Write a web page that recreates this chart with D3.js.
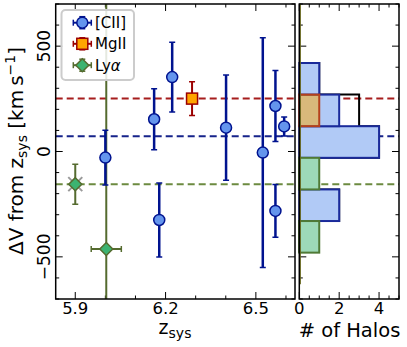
<!DOCTYPE html>
<html>
<head>
<meta charset="utf-8">
<script src="https://cdn.jsdelivr.net/npm/d3@7"></script>
<style>
  body { margin: 0; background: #fff; }
  svg { display: block; font-family: "DejaVu Sans", sans-serif; }
</style>
</head>
<body>
<div id="chart"></div>
<script>
// [CII] halos: redshift, velocity offset, 1-sigma error (km/s)
const ciiZ   = [6.000, 6.162, 6.179, 6.222, 6.401, 6.523, 6.565, 6.565, 6.594];
const ciiV   = [-29,   153,   -325,  353,   113,   -5,    216,   -282,  119];
const ciiErr = [130,   145,   176,   166,   250,   545,   168,   125,   45];

// MgII
const mgZ   = [6.288];
const mgV   = [251];
const mgErr = [80];

// Lyα
const lyaZ    = [5.900, 6.003];
const lyaV    = [-155, -463];
const lyaErr  = [95, 1500];
const lyaZErr = [0, 0.05];

// mean offsets (dashed lines): MgII, [CII], Lyα
const meanV = [251, 72, -155];

// histogram bin edges (km/s)
const binEdges = [-480, -330, -180, -30, 120, 270, 420];

const xTicks = [5.9, 6.2, 6.5];
const yTicks = [-500, 0, 500];
const histTicks = [0, 2, 4];

const W = 407, H = 347;
const main = { left: 55.7, right: 295, top: 4, bottom: 299 };
const hist = { left: 299.3, right: 399 };

const C = {
  cii: { fill: '#6495ed', edge: '#00138f', bar: '#b1caf6', barEdge: '#1a2a9a', dash: '#16238a' },
  mg:  { fill: '#ffa500', edge: '#9b0000', bar: '#ffa500', barEdge: '#b5401c', dash: '#a61d1d' },
  lya: { fill: '#3cb371', edge: '#556b2f', bar: '#9dd9b8', barEdge: '#4f7a36', dash: '#6c8a40' }
};

const svg = d3.select('#chart').append('svg')
  .attr('width', W).attr('height', H);

const x = d3.scaleLinear().domain([5.835, 6.63]).range([main.left, main.right]);
const y = d3.scaleLinear().domain([-700, 700]).range([main.bottom, main.top]);
const hx = d3.scaleLinear().domain([0, 5]).range([hist.left, hist.right]);

svg.append('clipPath').attr('id', 'clipMain')
  .append('rect').attr('x', main.left).attr('y', main.top)
  .attr('width', main.right - main.left).attr('height', main.bottom - main.top);

// ---------- inward ticks on all four sides ----------
function ticksY(x0, inward, major, minor) {
  const g = svg.append('g');
  major.forEach(v => g.append('line').attr('x1', x0).attr('x2', x0 + inward * 7)
    .attr('y1', y(v)).attr('y2', y(v)).attr('stroke', '#000').attr('stroke-width', 1));
  minor.forEach(v => g.append('line').attr('x1', x0).attr('x2', x0 + inward * 3.5)
    .attr('y1', y(v)).attr('y2', y(v)).attr('stroke', '#000').attr('stroke-width', 1));
}
function ticksX(scale, y0, inward, major, minor) {
  const g = svg.append('g');
  major.forEach(v => g.append('line').attr('y1', y0).attr('y2', y0 + inward * 7)
    .attr('x1', scale(v)).attr('x2', scale(v)).attr('stroke', '#000').attr('stroke-width', 1));
  minor.forEach(v => g.append('line').attr('y1', y0).attr('y2', y0 + inward * 3.5)
    .attr('x1', scale(v)).attr('x2', scale(v)).attr('stroke', '#000').attr('stroke-width', 1));
}
const yMinor = d3.range(-700, 701, 100).filter(v => !yTicks.includes(v));
const xMinor = d3.range(5.9, 6.65, 0.1).map(v => +v.toFixed(1)).filter(v => !xTicks.includes(v));
const hMinor = d3.range(0, 5.01, 0.5).filter(v => !histTicks.includes(v));

ticksY(main.left, 1, yTicks, yMinor);
ticksY(main.right, -1, yTicks, yMinor);
ticksY(hist.left, 1, yTicks, yMinor);
ticksY(hist.right, -1, yTicks, yMinor);
ticksX(x, main.bottom, -1, xTicks, xMinor);
ticksX(x, main.top, 1, xTicks, xMinor);
ticksX(hx, main.bottom, -1, histTicks, hMinor);
ticksX(hx, main.top, 1, histTicks, hMinor);

// ---------- mean dashed lines ----------
const dashColors = [C.mg.dash, C.cii.dash, C.lya.dash];
meanV.forEach((v, i) => {
  [[main.left, main.right], [hist.left, hist.right]].forEach(([a, b]) => {
    svg.append('line').attr('x1', a).attr('x2', b).attr('y1', y(v)).attr('y2', y(v))
      .attr('stroke', dashColors[i]).attr('stroke-width', 2)
      .attr('stroke-dasharray', '7,4');
  });
});

// ---------- error bars + markers ----------
const pts = svg.append('g').attr('clip-path', 'url(#clipMain)');
function errY(zv, v, e, color, w) {
  pts.append('line').attr('x1', x(zv)).attr('x2', x(zv)).attr('y1', y(v - e)).attr('y2', y(v + e))
    .attr('stroke', color).attr('stroke-width', w);
  [v - e, v + e].forEach(t => pts.append('line')
    .attr('x1', x(zv) - 3).attr('x2', x(zv) + 3).attr('y1', y(t)).attr('y2', y(t))
    .attr('stroke', color).attr('stroke-width', 1.5));
}
function errX(zv, v, e, color, w) {
  if (!e) return;
  pts.append('line').attr('x1', x(zv - e)).attr('x2', x(zv + e)).attr('y1', y(v)).attr('y2', y(v))
    .attr('stroke', color).attr('stroke-width', w);
  [zv - e, zv + e].forEach(t => pts.append('line')
    .attr('x1', x(t)).attr('x2', x(t)).attr('y1', y(v) - 3).attr('y2', y(v) + 3)
    .attr('stroke', color).attr('stroke-width', 1.5));
}
function diamond(g, cx, cy, r, c) {
  g.append('path').attr('d', `M${cx},${cy - r}L${cx + r},${cy}L${cx},${cy + r}L${cx - r},${cy}Z`)
    .attr('fill', c.fill).attr('stroke', c.edge).attr('stroke-width', 1.5);
}
function circle(g, cx, cy, c) {
  g.append('circle').attr('cx', cx).attr('cy', cy).attr('r', 5.5)
    .attr('fill', c.fill).attr('stroke', c.edge).attr('stroke-width', 1.5);
}
function square(g, cx, cy, c) {
  g.append('rect').attr('x', cx - 5.5).attr('y', cy - 5.5).attr('width', 11).attr('height', 11)
    .attr('fill', c.fill).attr('stroke', c.edge).attr('stroke-width', 1.5);
}

// Lyα first (its long error bar sits behind the [CII] points)
lyaZ.forEach((zv, i) => {
  errY(zv, lyaV[i], lyaErr[i], C.lya.edge, 2);
  errX(zv, lyaV[i], lyaZErr[i], C.lya.edge, 2);
});
// grey cross behind the first Lyα point
[[-1, -1], [-1, 1]].forEach(([a, b]) => {
  pts.append('line')
    .attr('x1', x(lyaZ[0]) + a * 7).attr('y1', y(lyaV[0]) + b * 7)
    .attr('x2', x(lyaZ[0]) - a * 7).attr('y2', y(lyaV[0]) - b * 7)
    .attr('stroke', '#9a9a9a').attr('stroke-width', 2);
});
lyaZ.forEach((zv, i) => diamond(pts, x(zv), y(lyaV[i]), 6.5, C.lya));

ciiZ.forEach((zv, i) => errY(zv, ciiV[i], ciiErr[i], C.cii.edge, 2.5));
ciiZ.forEach((zv, i) => circle(pts, x(zv), y(ciiV[i]), C.cii));

mgZ.forEach((zv, i) => errY(zv, mgV[i], mgErr[i], C.mg.edge, 2));
mgZ.forEach((zv, i) => square(pts, x(zv), y(mgV[i]), C.mg));

// ---------- histogram panel ----------
const binner = d3.bin().domain([binEdges[0], binEdges[binEdges.length - 1]]).thresholds(binEdges.slice(1, -1));
const ciiBins = binner(ciiV);
const mgBins = binner(mgV);
const lyaBins = binner(lyaV.filter(v => v >= binEdges[0]));
const allBins = binner(ciiV.concat(mgV));

// black step outline of [CII]+MgII
const step = [[0, binEdges[0]]];
allBins.forEach(b => { step.push([b.length, b.x0]); step.push([b.length, b.x1]); });
step.push([0, binEdges[binEdges.length - 1]]);
svg.append('path')
  .attr('d', d3.line().x(d => hx(d[0])).y(d => y(d[1]))(step))
  .attr('fill', 'none').attr('stroke', '#000').attr('stroke-width', 2);

function bars(bins, c, opacity) {
  svg.append('g').selectAll('rect').data(bins.filter(b => b.length > 0)).join('rect')
    .attr('x', hx(0))
    .attr('y', d => y(d.x1))
    .attr('width', d => hx(d.length) - hx(0))
    .attr('height', d => y(d.x0) - y(d.x1))
    .attr('fill', c.bar).attr('fill-opacity', opacity)
    .attr('stroke', c.barEdge).attr('stroke-width', 2);
}
bars(ciiBins, C.cii, 1);
bars(lyaBins, C.lya, 1);
bars(mgBins, C.mg, 0.5);

// thin olive line along zero count
svg.append('line').attr('x1', hx(0) + 1).attr('x2', hx(0) + 1)
  .attr('y1', main.top).attr('y2', y(-630))
  .attr('stroke', '#6b6b1f').attr('stroke-width', 1.2);

// ---------- frames ----------
[[main.left, main.right], [hist.left, hist.right]].forEach(([a, b]) => {
  svg.append('rect').attr('x', a).attr('y', main.top)
    .attr('width', b - a).attr('height', main.bottom - main.top)
    .attr('fill', 'none').attr('stroke', '#000').attr('stroke-width', 1.5);
});

// ---------- tick labels ----------
svg.append('g').selectAll('text').data(xTicks).join('text')
  .attr('x', d => x(d)).attr('y', 314).attr('text-anchor', 'middle')
  .attr('font-size', 16.5).text(d => d.toFixed(1));
svg.append('g').selectAll('text').data(histTicks).join('text')
  .attr('x', d => hx(d)).attr('y', 314).attr('text-anchor', 'middle')
  .attr('font-size', 16.5).text(d => d);
svg.append('g').selectAll('text').data(yTicks).join('text')
  .attr('transform', d => `translate(50,${y(d)}) rotate(-90)`)
  .attr('text-anchor', 'middle').attr('font-size', 17)
  .text(d => d < 0 ? '\u2212' + Math.abs(d) : d);

// ---------- axis labels ----------
const xl = svg.append('text').attr('x', 175).attr('y', 334)
  .attr('text-anchor', 'middle').attr('font-size', 19);
xl.append('tspan').text('z');
xl.append('tspan').attr('font-size', 14).attr('dy', 4).text('sys');

svg.append('text').attr('x', 349.5).attr('y', 337)
  .attr('text-anchor', 'middle').attr('font-size', 19.5).text('# of Halos');

const yl = svg.append('text').attr('transform', 'translate(23,151) rotate(-90)')
  .attr('text-anchor', 'middle').attr('font-size', 20);
yl.append('tspan').text('\u0394V from z');
yl.append('tspan').attr('font-size', 14).attr('dy', 4).text('sys');
yl.append('tspan').attr('dy', -4).text(' [km\u2009s');
yl.append('tspan').attr('font-size', 14).attr('dy', -8).text('\u22121');
yl.append('tspan').attr('dy', 8).text(']');

// ---------- legend ----------
const lg = svg.append('g');
lg.append('rect').attr('x', 61.5).attr('y', 10).attr('width', 72.5).attr('height', 70)
  .attr('rx', 4).attr('fill', '#fff').attr('fill-opacity', 0.85)
  .attr('stroke', '#cccccc').attr('stroke-width', 2);
const legendNames = ['[CII]', 'MgII', 'Ly'];
const legendKeys = ['cii', 'mg', 'lya'];
const legendY = [22.7, 43.8, 65.2];
legendKeys.forEach((k, i) => {
  const cx = 82.3, cy = legendY[i], c = C[k];
  lg.append('line').attr('x1', cx - 9).attr('x2', cx + 9).attr('y1', cy).attr('y2', cy)
    .attr('stroke', c.edge).attr('stroke-width', 2);
  lg.append('line').attr('x1', cx).attr('x2', cx).attr('y1', cy - 6).attr('y2', cy + 6)
    .attr('stroke', c.edge).attr('stroke-width', 2);
  [-9, 9].forEach(d => lg.append('line').attr('x1', cx + d).attr('x2', cx + d)
    .attr('y1', cy - 3).attr('y2', cy + 3).attr('stroke', c.edge).attr('stroke-width', 1.5));
  [-6, 6].forEach(d => lg.append('line').attr('x1', cx - 3).attr('x2', cx + 3)
    .attr('y1', cy + d).attr('y2', cy + d).attr('stroke', c.edge).attr('stroke-width', 1.5));
  if (k === 'cii') circle(lg, cx, cy, c);
  if (k === 'mg') square(lg, cx, cy, c);
  if (k === 'lya') diamond(lg, cx, cy, 6.5, c);
  const t = lg.append('text').attr('x', 95).attr('y', cy + 5.5).attr('font-size', 15).text(legendNames[i]);
  if (k === 'lya') t.append('tspan').attr('font-style', 'italic').text('\u03b1');
});
</script>
</body>
</html>
